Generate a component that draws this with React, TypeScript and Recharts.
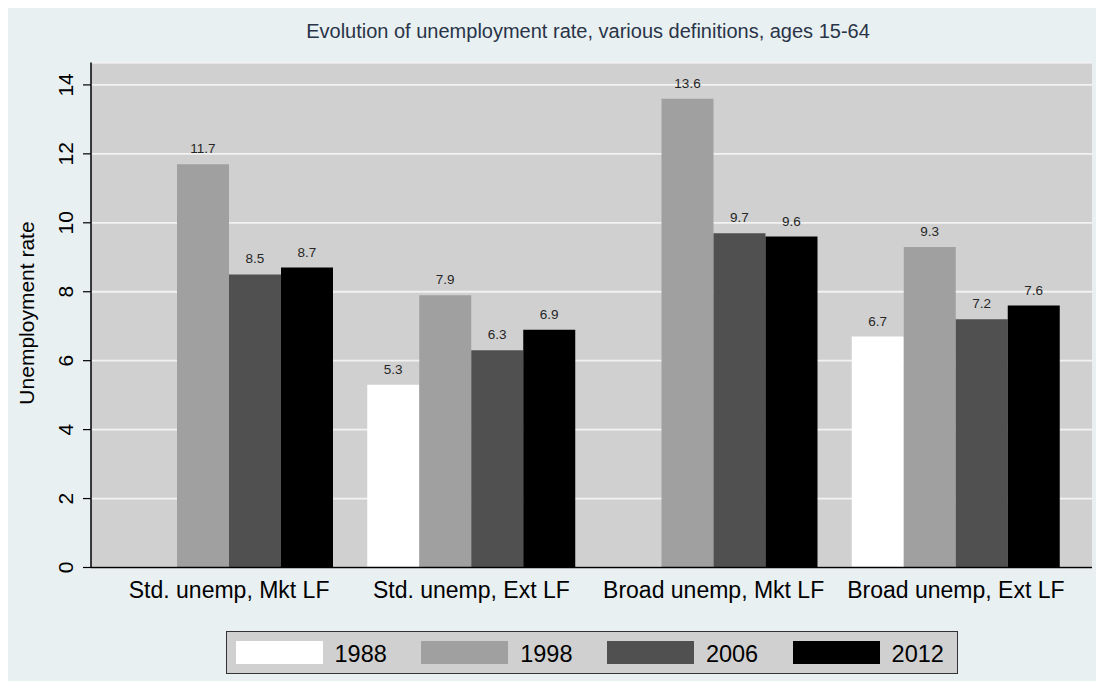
import React from 'react';
import { BarChart, Bar, XAxis, YAxis, CartesianGrid, LabelList, ReferenceLine } from 'recharts';

const categories = ['Std. unemp, Mkt LF', 'Std. unemp, Ext LF', 'Broad unemp, Mkt LF', 'Broad unemp, Ext LF'];
const years = ['1988', '1998', '2006', '2012'];
const values1988: (number | null)[] = [null, 5.3, null, 6.7];
const values1998 = [11.7, 7.9, 13.6, 9.3];
const values2006 = [8.5, 6.3, 9.7, 7.2];
const values2012 = [8.7, 6.9, 9.6, 7.6];
const yTicks = [0, 2, 4, 6, 8, 10, 12, 14];
const yMax = 14.65;
const colors = ['#ffffff', '#a0a0a0', '#505050', '#000000'];

const seriesValues = [values1988, values1998, values2006, values2012];

const data = categories.map((c, i) => {
  const row: Record<string, any> = { category: c };
  years.forEach((yr, k) => {
    row['y' + yr] = seriesValues[k][i];
  });
  return row;
});

const W = 1096;
const H = 673;
const FONT = '"Liberation Sans", Arial, Helvetica, sans-serif';

const YTick = (props: any) => {
  const { y, payload } = props;
  const bx = 65;
  return (
    <text
      x={bx}
      y={y}
      transform={`rotate(-90 ${bx} ${y})`}
      textAnchor="middle"
      fontSize={21}
      fill="#000"
    >
      {payload.value}
    </text>
  );
};

const YLabel = () => (
  <text x={26} y={305} transform="rotate(-90 26 305)" textAnchor="middle" fontSize={21} fill="#000">
    Unemployment rate
  </text>
);

export default function App() {
  return (
    <div
      style={{
        position: 'relative',
        width: W,
        height: H,
        background: '#e8f0f2',
        fontFamily: FONT,
      }}
    >
      <div
        style={{
          position: 'absolute',
          left: 580,
          top: 13.4,
          transform: 'translateX(-50%)',
          whiteSpace: 'nowrap',
          fontSize: 20,
          lineHeight: '20px',
          color: '#2a3448',
        }}
      >
        Evolution of unemployment rate, various definitions, ages 15-64
      </div>
      <BarChart
        width={W}
        height={H}
        data={data}
        margin={{ top: 54.5, right: 12, left: 0, bottom: 73.5 }}
        barCategoryGap={17}
        barGap={0}
      >
        <CartesianGrid vertical={false} fill="#d0d0d0" stroke="#f2f2f2" strokeWidth={1.8} fillOpacity={1} />
        <ReferenceLine y={yMax} stroke="#f2f2f2" strokeWidth={1.5} />
        <XAxis
          dataKey="category"
          tickLine={false}
          axisLine={{ stroke: '#000', strokeWidth: 1.5 }}
          tick={{ fontSize: 23, fill: '#000' }}
          tickMargin={8}
          height={40}
          padding={{ left: 17, right: 15 }}
          interval={0}
        />
        <YAxis
          type="number"
          domain={[0, yMax]}
          ticks={yTicks}
          allowDataOverflow
          width={83}
          tickSize={8}
          tickLine={{ stroke: '#000', strokeWidth: 1.2 }}
          axisLine={{ stroke: '#000', strokeWidth: 1.5 }}
          tick={<YTick />}
          label={{ content: () => <YLabel /> }}
        />
        {years.map((yr, k) => (
          <Bar key={yr} dataKey={'y' + yr} name={yr} fill={colors[k]} isAnimationActive={false}>
            <LabelList dataKey={'y' + yr} position="top" offset={11} fontSize={13.5} fill="#262626" />
          </Bar>
        ))}
      </BarChart>
      <div
        style={{
          position: 'absolute',
          left: 218,
          top: 623,
          width: 732,
          height: 43,
          boxSizing: 'border-box',
          border: '1.5px solid #333',
          background: '#d0d0d0',
        }}
      >
        {years.map((yr, k) => (
          <React.Fragment key={yr}>
            <div
              style={{
                position: 'absolute',
                left: 8.5 + k * 185.7,
                top: 8.5,
                width: 87,
                height: 23,
                background: colors[k],
              }}
            />
            <div
              style={{
                position: 'absolute',
                left: 107.5 + k * 185.7,
                top: 11.3,
                fontSize: 23.5,
                lineHeight: '23px',
                color: '#000',
                whiteSpace: 'nowrap',
              }}
            >
              {yr}
            </div>
          </React.Fragment>
        ))}
      </div>
    </div>
  );
}
